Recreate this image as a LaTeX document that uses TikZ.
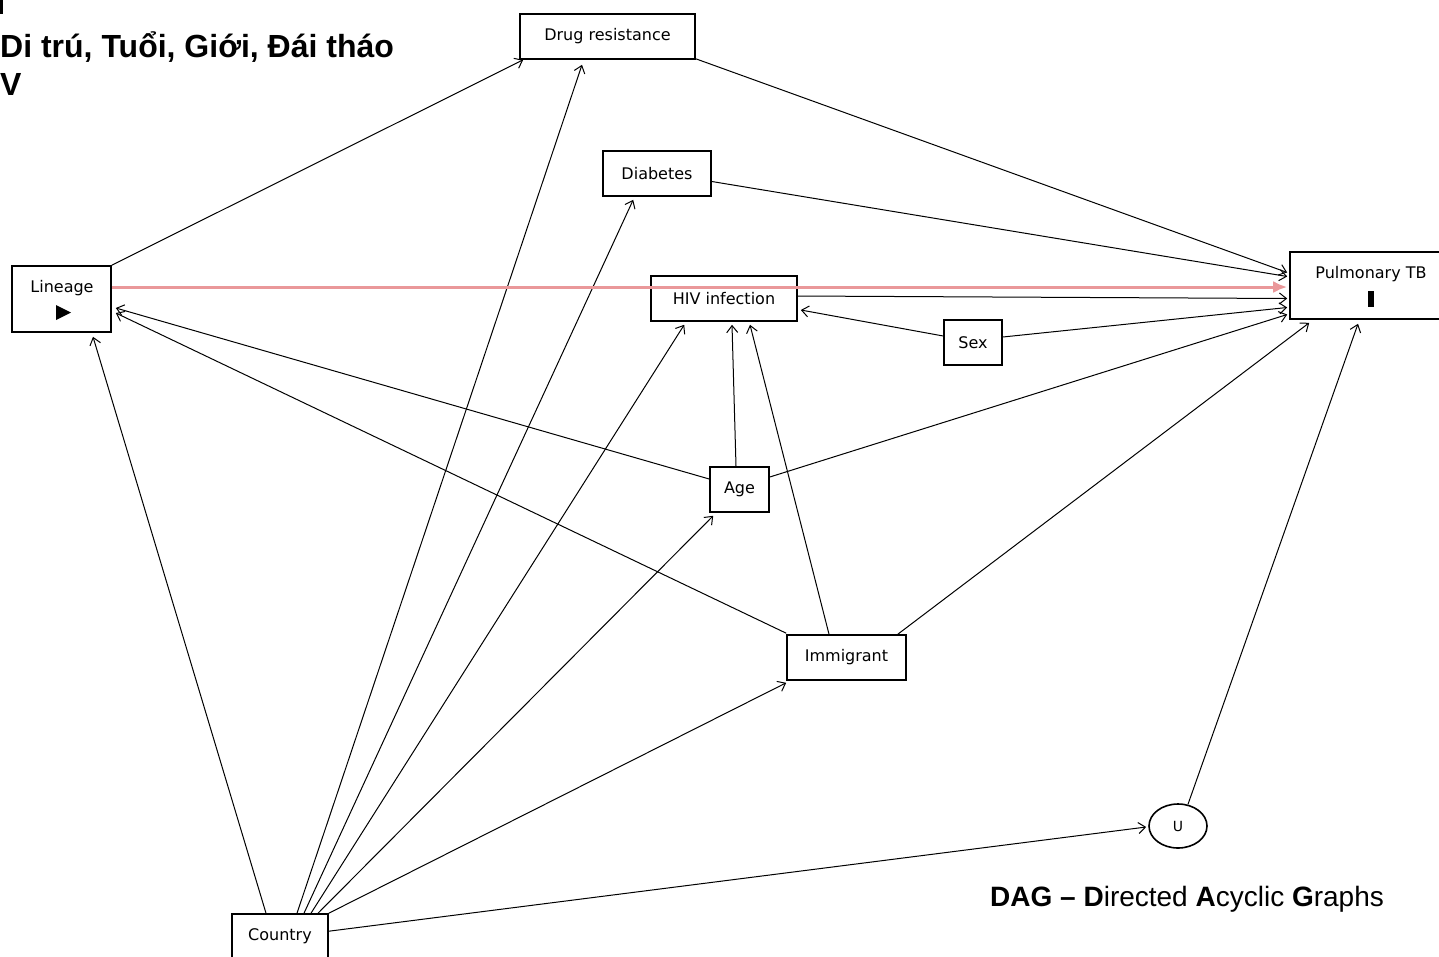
\documentclass[tikz,border=0pt]{standalone}
\usepackage{fontspec}
\setmainfont{DejaVu Sans}
\newfontfamily\arialfont{Liberation Sans}
\usetikzlibrary{arrows.meta,calc,shapes.geometric}
\definecolor{redline}{RGB}{234,152,154}
\tikzset{
  box/.style={draw=black,line width=1.6pt,inner sep=0pt,font=\fontsize{16}{19}\selectfont},
  arr/.style={draw=black,line width=1pt,-{Straight Barb[length=7pt,width=11pt,line width=1pt]}},
  redarr/.style={draw=redline,line width=3pt,-{Latex[length=14pt,width=12pt]}},
  plain/.style={inner sep=0pt,font=\fontsize{16}{19}\selectfont},
}
\begin{document}
\begin{tikzpicture}[x=1pt,y=-1pt]
\useasboundingbox (0,0) rectangle (1439,956);
% title
\fill (0,0) rectangle (2.5,14);
\node[anchor=base west,inner sep=0pt,font=\arialfont\bfseries\fontsize{32}{38}\selectfont] (title1) at (0,57) {Di trú, Tuổi, Giới, Đái tháo};
\node[anchor=base west,inner sep=0pt,font=\arialfont\bfseries\fontsize{32}{38}\selectfont] (title2) at (0,95) {V};
\node[anchor=base west,inner sep=0pt,font=\arialfont\fontsize{28}{33}\selectfont] (dagtxt) at (990,906) {\textbf{DAG – D}irected \textbf{A}cyclic \textbf{G}raphs};
% nodes
\node[box,minimum width=175pt,minimum height=45pt] (dr) at (607.5,36.5) {Drug resistance};
\node[box,minimum width=108pt,minimum height=45pt] (diab) at (657,173.5) {Diabetes};
\node[box,minimum width=99pt,minimum height=66pt] (lin) at (61.5,299) {};
\node[plain] (lintxt) at (62,288) {Lineage};
\fill (56,305) -- (56,320) -- (71,312.5) -- cycle;
\node[box,minimum width=146pt,minimum height=45pt] (hiv) at (724,298.5) {HIV infection};
\node[box,minimum width=162pt,minimum height=67pt] (ptb) at (1371,285.5) {};
\node[plain] (ptbtxt) at (1371,274) {Pulmonary TB};
\fill (1368,291) rectangle (1374,307);
\node[box,minimum width=58pt,minimum height=45pt] (sex) at (973,342.5) {Sex};
\node[box,minimum width=59pt,minimum height=45pt] (age) at (739.5,489.5) {Age};
\node[box,minimum width=119pt,minimum height=45pt] (imm) at (846.5,657.5) {Immigrant};
\node[draw=black,line width=1.6pt,ellipse,minimum width=58pt,minimum height=44pt,inner sep=0pt,font=\fontsize{14}{16}\selectfont] (u) at (1178,826) {U};
\node[box,minimum width=96pt,minimum height=45pt] (country) at (280,936.5) {Country};
% edges
\draw[arr] (lin.north east) -- ($(dr.south west)+(4,0)$);
\draw[arr] ($(dr.south east)+(0,-1)$) -- ($(ptb.west)+(-2,-13)$);
\draw[arr] ($(diab.east)+(0,8)$) -- ($(ptb.west)+(-2,-9)$);
\draw[arr] ($(hiv.east)+(0,-2.5)$) -- ($(ptb.west)+(-2,13)$);
\draw[arr] ($(sex.west)+(0,-6.5)$) -- ($(hiv.east)+(3,11.5)$);
\draw[arr] ($(sex.east)+(0,-5.5)$) -- ($(ptb.west)+(-2,22)$);
\draw[arr] ($(age.north)+(-3.5,0)$) -- ($(hiv.south)+(8,3)$);
\draw[arr] ($(age.east)+(0,-12.5)$) -- ($(ptb.west)+(-2,29)$);
\draw[arr] ($(age.west)+(0,-10.5)$) -- ($(lin.east)+(4,9)$);
\draw[arr] ($(imm.north west)+(0,-1)$) -- ($(lin.east)+(4,14)$);
\draw[arr] ($(imm.north)+(-17.5,0)$) -- ($(hiv.south)+(26,3)$);
\draw[arr] ($(imm.north east)+(-9,0)$) -- ($(ptb.south west)+(20,3)$);
\draw[arr] ($(u.north)+(10,1)$) -- ($(ptb.south)+(-13,4)$);
\draw[arr] ($(country.north)+(-14,0)$) -- ($(lin.south)+(31.5,4)$);
\draw[arr] ($(country.north)+(17,0)$) -- ($(dr.south)+(-25.5,5)$);
\draw[arr] ($(country.north)+(24,0)$) -- ($(diab.south west)+(31,3)$);
\draw[arr] ($(country.north)+(31,0)$) -- ($(hiv.south west)+(34,3)$);
\draw[arr] ($(country.north)+(38,0)$) -- ($(age.south west)+(4,3)$);
\draw[arr] (country.north east) -- ($(imm.south west)+(0,2)$);
\draw[arr] ($(country.north east)+(0,18)$) -- ($(u.west)+(-2,1)$);
\draw[redarr] ($(lin.east)+(0,-12)$) -- ($(ptb.west)+(-2,1.5)$);
\end{tikzpicture}
\end{document}
